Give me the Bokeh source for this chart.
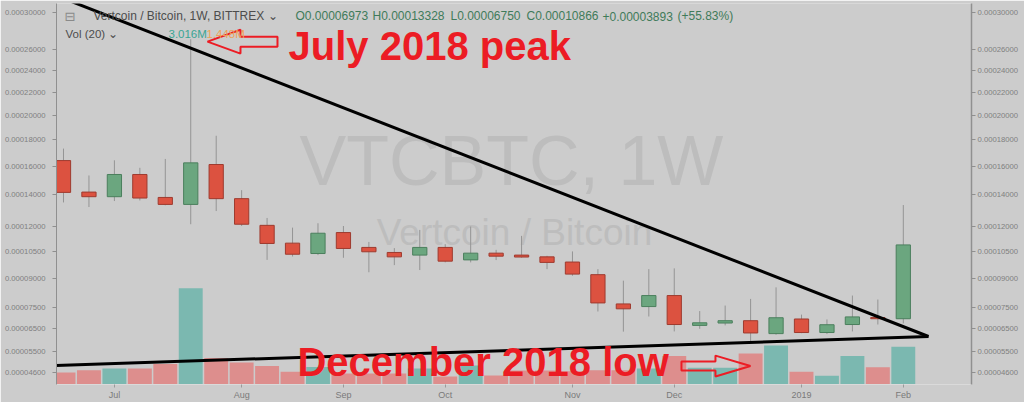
import datetime as dt
import numpy as np
from bokeh.plotting import figure
from bokeh.models import (Range1d, LinearAxis, FixedTicker, CustomJSTickFormatter,
                          Label, ColumnDataSource)
from bokeh.embed import file_html
from bokeh.resources import INLINE

# ---------------- data (weekly VTC/BTC candles, Bittrex) ----------------
dates = ["2018-06-18", "2018-06-25", "2018-07-02", "2018-07-09", "2018-07-16",
         "2018-07-23", "2018-07-30", "2018-08-06", "2018-08-13", "2018-08-20",
         "2018-08-27", "2018-09-03", "2018-09-10", "2018-09-17", "2018-09-24",
         "2018-10-01", "2018-10-08", "2018-10-15", "2018-10-22", "2018-10-29",
         "2018-11-05", "2018-11-12", "2018-11-19", "2018-11-26", "2018-12-03",
         "2018-12-10", "2018-12-17", "2018-12-24", "2018-12-31", "2019-01-07",
         "2019-01-14", "2019-01-21", "2019-01-28", "2019-02-04"]

open_p = [0.0001642, 0.0001419, 0.0001388, 0.0001541, 0.0001383, 0.0001337, 0.0001613,
          0.0001375, 0.0001204, 0.0001097, 0.0001037, 0.0001160, 0.0001072, 0.0001043,
          0.0001028, 0.0001072, 0.0001001, 0.0001039, 0.0001028, 0.0001018, 0.0000989,
          0.0000920, 0.0000769, 0.0000756, 0.0000811, 0.0000666, 0.0000677, 0.0000688,
          0.0000628, 0.0000696, 0.0000633, 0.0000670, 0.0000703, 0.00006973]
high_p = [0.0001732, 0.0001534, 0.0001644, 0.0001589, 0.0001654, 0.0002710, 0.0001832,
          0.0001432, 0.0001250, 0.0001190, 0.0001217, 0.0001200, 0.0001104, 0.0001068,
          0.0001176, 0.0001091, 0.0001197, 0.0001058, 0.0001140, 0.0001024, 0.0001049,
          0.0000950, 0.0000888, 0.0000950, 0.0000954, 0.0000734, 0.0000761, 0.0000794,
          0.0000853, 0.0000717, 0.0000694, 0.0000811, 0.0000791, 0.00013328]
low_p = [0.0001350, 0.0001320, 0.0001359, 0.0001363, 0.0001331, 0.0001211, 0.0001294,
         0.0001200, 0.0001001, 0.0001020, 0.0001028, 0.0001013, 0.0000933, 0.0000972,
         0.0000945, 0.0000987, 0.0000987, 0.0001000, 0.0001013, 0.0000950, 0.0000914,
         0.0000732, 0.0000637, 0.0000708, 0.0000638, 0.0000650, 0.0000666, 0.0000592,
         0.0000623, 0.0000630, 0.0000626, 0.0000638, 0.0000670, 0.00006750]
close_p = [0.0001417, 0.0001388, 0.0001541, 0.0001379, 0.0001337, 0.0001625, 0.0001375,
           0.0001211, 0.0001095, 0.0001033, 0.0001156, 0.0001066, 0.0001047, 0.0001018,
           0.0001072, 0.0000994, 0.0001039, 0.0001022, 0.0001017, 0.0000987, 0.0000923,
           0.0000774, 0.0000745, 0.0000811, 0.0000670, 0.0000678, 0.0000688, 0.0000631,
           0.0000702, 0.0000633, 0.0000669, 0.0000706, 0.00006973, 0.00010866]
volume_m = [0.95, 1.13, 1.27, 1.27, 1.64, 7.67, 2.12, 1.75, 1.48, 1.01, 1.40, 0.87,
            0.87, 0.87, 1.27, 0.63, 1.51, 0.71, 1.11, 1.11, 1.06, 1.13, 1.13, 1.27,
            2.28, 1.33, 1.33, 2.48, 3.12, 1.01, 0.69, 2.28, 1.37, 3.016]

price_ticks = [0.00030, 0.00026, 0.00024, 0.00022, 0.00020, 0.00018, 0.00016,
               0.00014, 0.00012, 0.000105, 0.00009, 0.000075, 0.000065,
               0.000055, 0.000046]

# trend lines (bar index, price)
upper_trend_x = [0.196, 33.99]
upper_trend_p = [0.0003136, 0.0000615]
lower_trend_x = [-0.6, 33.99]
lower_trend_p = [0.0000488, 0.0000615]

title_text = "Vertcoin / Bitcoin, 1W, BITTREX \u2304"
ohlc_parts = ["O0.00006973", "H0.00013328", "L0.00006750", "C0.00010866",
              "+0.00003893", "(+55.83%)"]
vol_last, vol_ma = "3.016M", "1.448M"

# ---------------- scale helpers ----------------
OFFSET = 1e-4                       # price scale: log(price + offset)
def yv(p):
    return np.log(np.asarray(p, dtype=float) + OFFSET)

# annotation placement helpers (reference pixel -> data)
V0, PXV = np.log(4e-4), 359.2
def ay(px):
    return float(V0 - (px - 12) / PXV)
def ax(px):
    return (px - 63) / 25.45
def base(px, fs):
    # text baseline position, compensating the label baseline shift
    return ay(px - 0.33 * fs)

n = len(dates)
xi = np.arange(n)
o, h, l, c = map(np.array, (open_p, high_p, low_p, close_p))
up = c >= o

BG = "#cccccc"
RED_F, RED_L = "#dc5240", "#9e3b2f"
GRN_F, GRN_L = "#6ba67f", "#4b7f5d"
VOL_RED, VOL_GRN = "#dd8e8d", "#7bb8b0"
FONT = "Liberation Sans"

src = ColumnDataSource(dict(
    x=xi, top=yv(np.maximum(o, c)), bottom=yv(np.minimum(o, c)),
    high=yv(h), low=yv(l),
    fill=[GRN_F if u else RED_F for u in up],
    line=[GRN_L if u else RED_L for u in up],
    vol=volume_m, volc=[VOL_GRN if u else VOL_RED for u in up]))

p = figure(width=1024, height=402, output_backend="svg", toolbar_location=None,
           x_range=Range1d(-0.275, 35.68),
           y_range=Range1d(float(yv(0.0000412)), float(yv(0.000310))),
           min_border_left=56, min_border_right=53, min_border_top=3,
           min_border_bottom=16)
p.background_fill_color = BG
p.border_fill_color = BG
p.outline_line_color = None
p.grid.visible = False
p.extra_y_ranges = {"vol": Range1d(0, 30.4)}

# y axes
yticker = FixedTicker(ticks=[float(t) for t in yv(price_ticks)], minor_ticks=[])
yfmt = CustomJSTickFormatter(code="return (Math.exp(tick) - 0.0001).toFixed(8);")
ya = p.yaxis[0]
ya.ticker = yticker
ya.formatter = yfmt
ra = LinearAxis(ticker=yticker, formatter=yfmt)
p.add_layout(ra, "right")
for axx, standoff in ((ya, 7), (ra, 2)):
    axx.major_label_text_font = FONT
    axx.major_label_text_font_size = "7.7px"
    axx.major_label_text_color = "#808080"
    axx.major_tick_out = 4
    axx.major_tick_in = 0
    axx.minor_tick_out = 0
    axx.major_tick_line_color = "#8f8f8f"
    axx.axis_line_color = "#909090"
    axx.major_label_standoff = standoff
ra.axis_line_width = 1.5

# x axis: label first bar of each month (January shows the year)
d = [dt.date.fromisoformat(s) for s in dates]
month_ticks = [i for i in range(1, n) if d[i].month != d[i - 1].month]
xa = p.xaxis[0]
xa.ticker = FixedTicker(ticks=month_ticks, minor_ticks=[])
xa.major_label_overrides = {i: (str(d[i].year) if d[i].month == 1 else d[i].strftime("%b"))
                            for i in month_ticks}
xa.major_label_text_font = FONT
xa.major_label_text_font_size = "9px"
xa.major_label_text_color = "#7a7a7a"
xa.major_tick_out = 3
xa.major_tick_in = 0
xa.minor_tick_out = 0
xa.major_tick_line_color = "#9a9a9a"
xa.axis_line_color = "#dadada"
xa.major_label_standoff = 2

# watermark
p.add_layout(Label(x=ax(511), y=base(185, 70), text="VTCBTC, 1W", text_align="center",
                   text_baseline="alphabetic", text_font=FONT,
                   text_font_size="70px", text_color="#bdbdbd", level="underlay"))
p.add_layout(Label(x=ax(514), y=base(245, 37), text="Vertcoin / Bitcoin",
                   text_align="center", text_baseline="alphabetic", text_font=FONT,
                   text_font_size="37px", text_color="#bdbdbd", level="underlay"))

# volume
p.vbar(x="x", top="vol", bottom=0, width=0.94, fill_color="volc", line_color=None,
       y_range_name="vol", source=src)
# candles
p.segment(x0="x", y0="high", x1="x", y1="low", line_color="#949494", line_width=1,
          source=src)
p.vbar(x="x", top="top", bottom="bottom", width=0.56, fill_color="fill",
       line_color="line", line_width=1, source=src)

# trend lines
p.line(upper_trend_x, yv(upper_trend_p), line_color="black", line_width=3)
p.line(lower_trend_x, yv(lower_trend_p), line_color="black", line_width=3)

# header legend
p.add_layout(Label(x=ax(64), y=base(20, 13), text="\u229f", text_baseline="alphabetic",
                   text_font="DejaVu Sans", text_font_size="13px", text_color="#8a8a8a"))
p.add_layout(Label(x=ax(93), y=base(20, 12), text=title_text, text_baseline="alphabetic",
                   text_font=FONT, text_font_size="12px", text_color="#4d4d4d"))
for part, px in zip(ohlc_parts, [295, 372, 450, 526, 602, 677]):
    p.add_layout(Label(x=ax(px), y=base(20, 12), text=part, text_baseline="alphabetic",
                       text_font=FONT, text_font_size="12px", text_color="#3f7b5a"))
p.add_layout(Label(x=ax(65), y=base(38, 11.5), text="Vol (20) \u2304",
                   text_baseline="alphabetic", text_font=FONT, text_font_size="11.5px",
                   text_color="#4d4d4d"))
p.add_layout(Label(x=ax(168), y=base(38, 11.5), text=vol_last, text_baseline="alphabetic",
                   text_font=FONT, text_font_size="11.5px", text_color="#3aa594"))
p.add_layout(Label(x=ax(206), y=base(38, 11.5), text=vol_ma, text_baseline="alphabetic",
                   text_font=FONT, text_font_size="11.5px", text_color="#eea255"))

# block arrows (red outline, hollow)
def block_arrow(tip, head, tail, cy, hh, sh):
    pts = [(tip, cy), (head, cy - hh), (head, cy - sh), (tail, cy - sh),
           (tail, cy + sh), (head, cy + sh), (head, cy + hh)]
    return [ax(a) for a, _ in pts], [ay(b) for _, b in pts]

RED_ANN = "#ec1c24"
for geo in ((207, 240, 277, 41.5, 12, 5), (750, 715, 681, 367.5, 10.5, 4.5)):
    axs, ays = block_arrow(*geo)
    p.patch(axs, ays, fill_alpha=0, line_color=RED_ANN, line_width=2)

p.add_layout(Label(x=ax(288), y=base(59, 40), text="July 2018 peak",
                   text_baseline="alphabetic", text_font=FONT, text_font_size="40px",
                   text_font_style="bold", text_color=RED_ANN))
p.add_layout(Label(x=ax(297), y=base(377, 40), text="December 2018 low",
                   text_baseline="alphabetic", text_font=FONT,
                   text_font_size="40px", text_font_style="bold", text_color=RED_ANN))

open("out.html", "w").write(file_html(p, INLINE))
